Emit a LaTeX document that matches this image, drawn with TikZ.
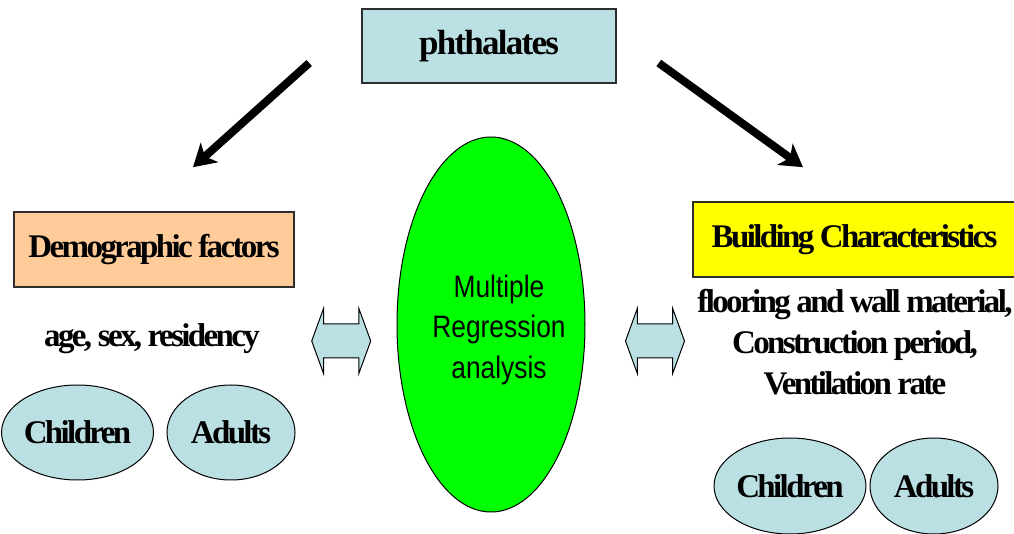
\documentclass[tikz,border=0pt]{standalone}
\usepackage{fontspec}
\setmainfont{Liberation Serif}
\newfontfamily\tightserif[LetterSpace=-8]{Liberation Serif}
\newfontfamily\headserif[LetterSpace=-5]{Liberation Serif}
\newfontfamily\plainsans[FakeStretch=0.85]{Liberation Sans}
\usepackage{tikz}
\usetikzlibrary{shapes.geometric, shapes.arrows, arrows.meta, positioning, calc}
\definecolor{phthblue}{RGB}{187, 224, 227}
\definecolor{demopeach}{RGB}{255, 204, 153}
\definecolor{buildyellow}{RGB}{255, 255, 0}
\definecolor{regrgreen}{RGB}{0, 255, 0}
\definecolor{boxgray}{RGB}{45, 45, 45}

\tikzset{
  factorbox/.style={draw=boxgray, line width=0.8pt, inner sep=0pt,
                    font=\tightserif\bfseries\fontsize{16.5}{20.5}\selectfont},
  factortext/.style={inner sep=0pt, font=\tightserif\bfseries\fontsize{16.5}{20.5}\selectfont},
  groupell/.style={ellipse, draw=black, line width=0.5pt, fill=phthblue, inner sep=0pt,
                   font=\tightserif\bfseries\fontsize{16.5}{20.5}\selectfont},
  linkarrow/.style={double arrow, draw=black, line width=0.5pt, fill=phthblue,
                    double arrow head extend=7.75pt, double arrow tip angle=140,
                    inner xsep=0pt, inner ysep=8.25pt, minimum height=29.5pt},
  bigarrow/.style={line width=4pt, -{Stealth[length=11pt, width=13pt, inset=3pt]}}
}

\begin{document}
\begin{tikzpicture}[x=0.5pt, y=-0.5pt]
    \useasboundingbox (0,0) rectangle (1014,534);

    % source box and the two factor groups
    \node[factorbox, fill=phthblue, minimum width=127pt, minimum height=37pt,
          font=\headserif\bfseries\fontsize{17.5}{20}\selectfont] (phth) at (489,46) {phthalates};
    \node[factorbox, fill=demopeach, minimum width=140pt, minimum height=37.5pt] (demo) at (154,249.5) {Demographic factors};
    \node[factorbox, fill=buildyellow, minimum width=161.5pt, minimum height=37.5pt] (build) at (854.5,239.5) {Building Characteristics};

    \draw[bigarrow] ($(phth.west)+(-52,17)$) -- ($(demo.north)+(39,-44)$);
    \draw[bigarrow] ($(phth.east)+(42,17)$) -- ($(build.north)+(-51.5,-34)$);

    \node[factortext, anchor=base] (demolist) at (152,347) {age, sex, residency};
    \node[factortext, align=center] (buildlist) at (855,342) {flooring and wall material,\\Construction period,\\Ventilation rate};

    % population groups
    \node[groupell, minimum width=72.5pt, minimum height=47.5pt] (demochild) at (77.5,432.5) {Children};
    \node[groupell, minimum width=64pt, minimum height=47.5pt] (demoadult) at (231,432.5) {Adults};
    \node[groupell, minimum width=73pt, minimum height=48pt] (buildchild) at (790,486) {Children};
    \node[groupell, minimum width=64pt, minimum height=48pt] (buildadult) at (934,486) {Adults};

    % regression in the middle
    \node[ellipse, draw=black, line width=0.5pt, fill=regrgreen, minimum width=94pt, minimum height=187.5pt] (regr) at (491,324.5) {};
    \node[align=center, inner sep=0pt, font=\plainsans\fontsize{15.5}{20.25}\selectfont] (regrtext) at ($(regr.center)+(8,5)$) {Multiple\\Regression\\analysis};

    \node[linkarrow] (demolink) at (341.2,341) {};
    \node[linkarrow] (buildlink) at (655,341) {};
\end{tikzpicture}
\end{document}
